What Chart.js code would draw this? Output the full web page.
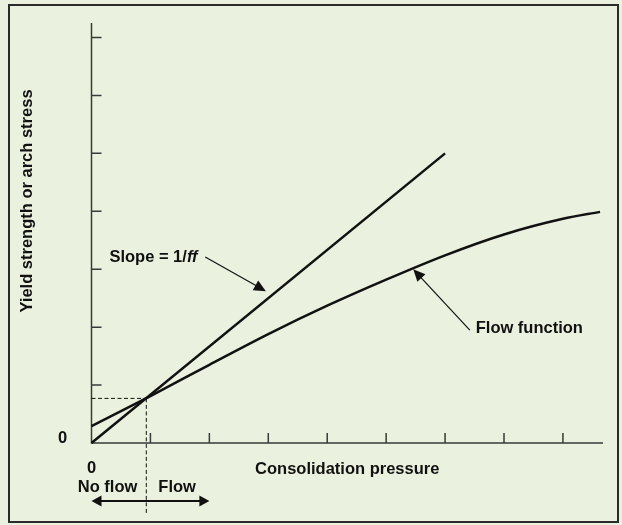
<!DOCTYPE html>
<html>
<head>
<meta charset="utf-8">
<script src="https://cdn.jsdelivr.net/npm/chart.js@4.4.0/dist/chart.umd.min.js"></script>
<style>
  html, body { margin: 0; padding: 0; background: #eaf2df; }
  canvas { display: block; }
</style>
</head>
<body>
<canvas id="yieldChart" width="622" height="525"></canvas>
<script>
// straight line through the origin, slope = 1/ff
const slopeX = [0, 6];
const slopeY = [0, 5];
// flow function curve
const flowX = [0, 1, 2, 3, 4, 5, 6, 7, 8, 8.63];
const flowY = [0.29, 0.81, 1.35, 1.88, 2.37, 2.82, 3.24, 3.6, 3.87, 3.99];
// unlabelled tick marks
const xTicks = [1, 2, 3, 4, 5, 6, 7, 8];
const yTicks = [1, 2, 3, 4, 5, 6, 7];
// point where the two lines cross (critical condition)
const criticalX = 0.93;
const criticalY = 0.77;

const INK = "#111";
const AXIS = "#3a3a3a";
const FONT = "bold 16.5px 'Liberation Sans', Arial, sans-serif";

function toPoints(xs, ys) {
  return xs.map((x, i) => ({ x: x, y: ys[i] }));
}

function arrowHead(ctx, fx, fy, tx, ty, len, half) {
  const a = Math.atan2(ty - fy, tx - fx);
  ctx.beginPath();
  ctx.moveTo(tx, ty);
  ctx.lineTo(tx - len * Math.cos(a) + half * Math.sin(a), ty - len * Math.sin(a) - half * Math.cos(a));
  ctx.lineTo(tx - len * Math.cos(a) - half * Math.sin(a), ty - len * Math.sin(a) + half * Math.cos(a));
  ctx.closePath();
  ctx.fill();
}

function arrow(ctx, fx, fy, tx, ty) {
  const a = Math.atan2(ty - fy, tx - fx);
  ctx.beginPath();
  ctx.moveTo(fx, fy);
  ctx.lineTo(tx - 9 * Math.cos(a), ty - 9 * Math.sin(a));
  ctx.stroke();
  arrowHead(ctx, fx, fy, tx, ty, 12, 5.5);
}

const framePlugin = {
  id: "frame",
  beforeDraw(chart) {
    const ctx = chart.ctx;
    ctx.save();
    ctx.fillStyle = "#eaf2df";
    ctx.fillRect(0, 0, chart.width, chart.height);
    ctx.strokeStyle = "#2b2b2b";
    ctx.lineWidth = 2;
    ctx.strokeRect(9, 5, 609, 517);
    ctx.restore();
  },
  beforeDatasetsDraw(chart) {
    const { ctx, chartArea } = chart;
    const xs = chart.scales.x, ys = chart.scales.y;
    const x0 = xs.getPixelForValue(0), y0 = ys.getPixelForValue(0);
    ctx.save();
    ctx.strokeStyle = AXIS;
    ctx.lineWidth = 1.5;
    ctx.beginPath();
    ctx.moveTo(x0, chartArea.top);
    ctx.lineTo(x0, y0);
    ctx.lineTo(chartArea.right, y0);
    xTicks.forEach(v => {
      const px = xs.getPixelForValue(v);
      ctx.moveTo(px, y0);
      ctx.lineTo(px, y0 - 10);
    });
    yTicks.forEach(v => {
      const py = ys.getPixelForValue(v);
      ctx.moveTo(x0, py);
      ctx.lineTo(x0 + 10, py);
    });
    ctx.stroke();

    // dashed guides to the critical point
    const cx = xs.getPixelForValue(criticalX), cy = ys.getPixelForValue(criticalY);
    ctx.strokeStyle = INK;
    ctx.lineWidth = 1;
    ctx.setLineDash([4, 2.5]);
    ctx.beginPath();
    ctx.moveTo(x0, cy);
    ctx.lineTo(cx, cy);
    ctx.moveTo(cx, cy);
    ctx.lineTo(cx, y0 + 70);
    ctx.stroke();
    ctx.restore();
  },
  afterDatasetsDraw(chart) {
    const { ctx, chartArea } = chart;
    const xs = chart.scales.x, ys = chart.scales.y;
    const px = v => xs.getPixelForValue(v);
    const py = v => ys.getPixelForValue(v);
    const x0 = px(0), y0 = py(0);
    ctx.save();
    ctx.fillStyle = INK;
    ctx.strokeStyle = INK;
    ctx.lineWidth = 1.2;
    ctx.font = FONT;
    ctx.textBaseline = "middle";

    // Slope = 1/ff callout
    ctx.textAlign = "left";
    const slopeText = "Slope = 1/";
    const sw = ctx.measureText(slopeText).width;
    ctx.font = "italic " + FONT;
    const fw = ctx.measureText("ff").width;
    const sx = px(1.8) - sw - fw;
    ctx.font = FONT;
    ctx.fillText(slopeText, sx, py(3.2));
    ctx.font = "italic " + FONT;
    ctx.fillText("ff", sx + sw, py(3.2));
    ctx.font = FONT;
    arrow(ctx, px(1.93), py(3.21), px(2.96), py(2.62));

    // Flow function callout
    ctx.fillText("Flow function", px(6.52), py(1.97));
    arrow(ctx, px(6.42), py(1.95), px(5.46), py(3.0));

    // origin labels and axis titles
    ctx.textAlign = "center";
    ctx.fillText("0", x0 - 29, y0 - 5);
    ctx.fillText("0", x0, y0 + 25);
    ctx.fillText("Consolidation pressure", (chartArea.left + chartArea.right) / 2, y0 + 26);

    ctx.save();
    ctx.translate(27, 201);
    ctx.rotate(-Math.PI / 2);
    ctx.fillText("Yield strength or arch stress", 0, 0);
    ctx.restore();

    // no flow / flow regions
    const cx = px(criticalX);
    ctx.textAlign = "right";
    ctx.fillText("No flow", cx - 9, y0 + 44);
    ctx.textAlign = "left";
    ctx.fillText("Flow", cx + 12, y0 + 44);
    const ay = y0 + 58;
    ctx.lineWidth = 2;
    ctx.beginPath();
    ctx.moveTo(x0 + 8, ay);
    ctx.lineTo(px(2) - 8, ay);
    ctx.stroke();
    arrowHead(ctx, px(2), ay, x0, ay, 10, 5.5);
    arrowHead(ctx, x0, ay, px(2), ay, 10, 5.5);
    ctx.restore();
  }
};

new Chart(document.getElementById("yieldChart"), {
  type: "scatter",
  data: {
    datasets: [
      {
        label: "Slope = 1/ff",
        data: toPoints(slopeX, slopeY),
        showLine: true,
        borderColor: INK,
        borderWidth: 2.5,
        pointRadius: 0,
        clip: false
      },
      {
        label: "Flow function",
        data: toPoints(flowX, flowY),
        showLine: true,
        borderColor: INK,
        borderWidth: 2.5,
        pointRadius: 0,
        cubicInterpolationMode: "monotone",
        clip: false
      }
    ]
  },
  options: {
    responsive: false,
    animation: false,
    events: [],
    layout: { padding: { left: 91.5, right: 19, top: 23, bottom: 82 } },
    scales: {
      x: { type: "linear", min: 0, max: 8.68, display: false },
      y: { type: "linear", min: 0, max: 7.25, display: false }
    },
    plugins: {
      legend: { display: false },
      tooltip: { enabled: false }
    }
  },
  plugins: [framePlugin]
});
</script>
</body>
</html>
